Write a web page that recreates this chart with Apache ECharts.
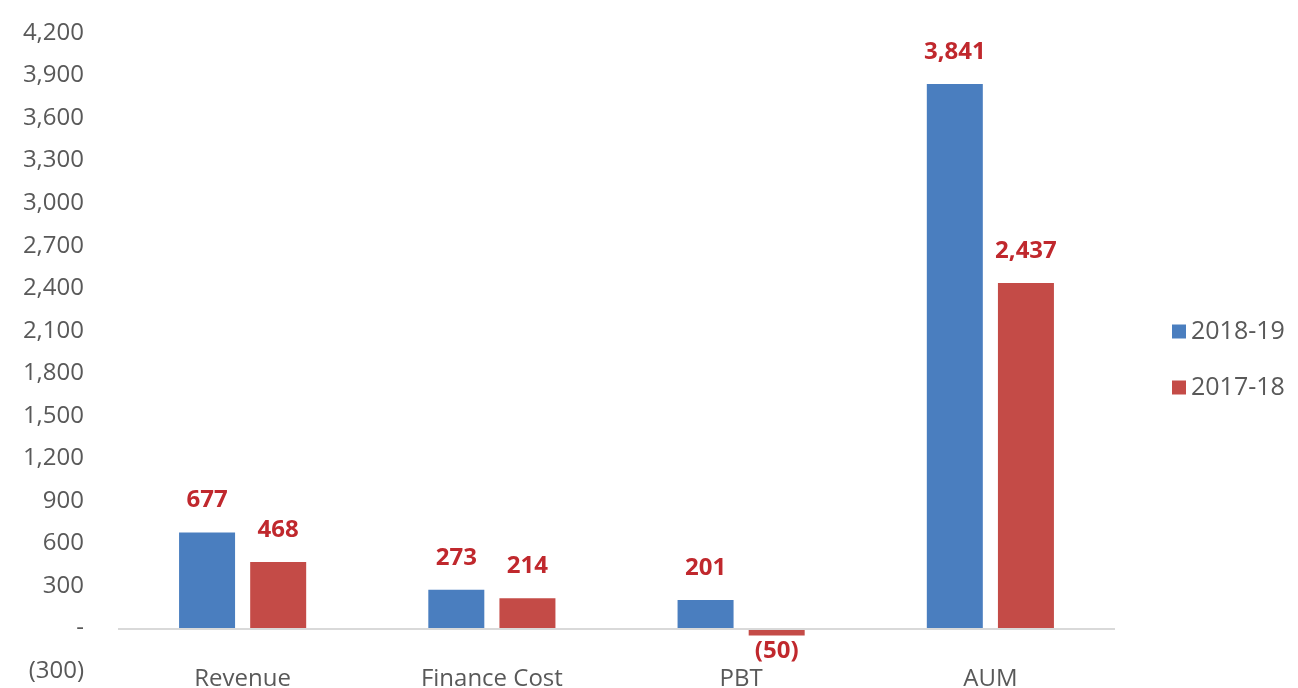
<!DOCTYPE html>
<html><head><meta charset="utf-8">
<script src="https://cdn.jsdelivr.net/npm/echarts@6/dist/echarts.min.js"></script>
<style>html,body{margin:0;padding:0;background:#fff}#c{width:1298px;height:688px}</style>
</head><body><div id="c"></div>
<script>
const categories = ['Revenue', 'Finance Cost', 'PBT', 'AUM'];
const series2018 = [677, 273, 201, 3841];
const series2017 = [468, 214, -50, 2437];
const seriesNames = ['2018-19', '2017-18'];
const yMin = -300, yMax = 4200, yStep = 300;

const FONT = 'Open Sans';
function fmt(v) {
  if (v === 0) return '-';
  const s = Math.abs(v).toLocaleString('en-US');
  return v < 0 ? '(' + s + ')' : s;
}
function toData(arr) {
  return arr.map(v => ({
    value: v,
    label: v < 0 ? { position: 'bottom', distance: 4 } : { position: 'top', distance: 20 }
  }));
}
const labelStyle = {
  show: true, color: '#C0282D', fontFamily: FONT, fontWeight: 'bold', fontSize: 24,
  formatter: p => fmt(p.value)
};
const chart = echarts.init(document.getElementById('c'));
chart.setOption({
  animation: false,
  color: ['#4A7EBF', '#C44B47'],
  grid: { left: 118, right: 183, top: 33, bottom: 17, containLabel: false, outerBoundsMode: 'none' },
  legend: {
    orient: 'vertical', left: 1167, top: 314, itemGap: 31,
    itemWidth: 14, itemHeight: 14, icon: 'rect',
    textStyle: { fontFamily: FONT, fontSize: 25, color: '#595959' },
    data: seriesNames
  },
  xAxis: {
    type: 'category', data: categories,
    axisLine: { show: false, onZero: false }, axisTick: { show: false },
    axisLabel: { fontFamily: FONT, fontSize: 24, color: '#595959', margin: -4 }
  },
  yAxis: {
    type: 'value', min: yMin, max: yMax, interval: yStep,
    splitLine: { show: false }, axisLine: { show: false }, axisTick: { show: false },
    axisLabel: { fontFamily: FONT, fontSize: 24, color: '#595959', margin: 34, formatter: fmt }
  },
  series: [
    {
      name: seriesNames[0], type: 'bar', data: toData(series2018),
      barWidth: 56, barGap: '27%', label: labelStyle,
      markLine: {
        silent: true, symbol: 'none', label: { show: false },
        lineStyle: { color: '#D9D9D9', width: 2, type: 'solid' },
        data: [{ yAxis: 0 }]
      }
    },
    {
      name: seriesNames[1], type: 'bar', data: toData(series2017),
      barWidth: 56, barGap: '27%', label: labelStyle
    }
  ]
});
</script></body></html>
